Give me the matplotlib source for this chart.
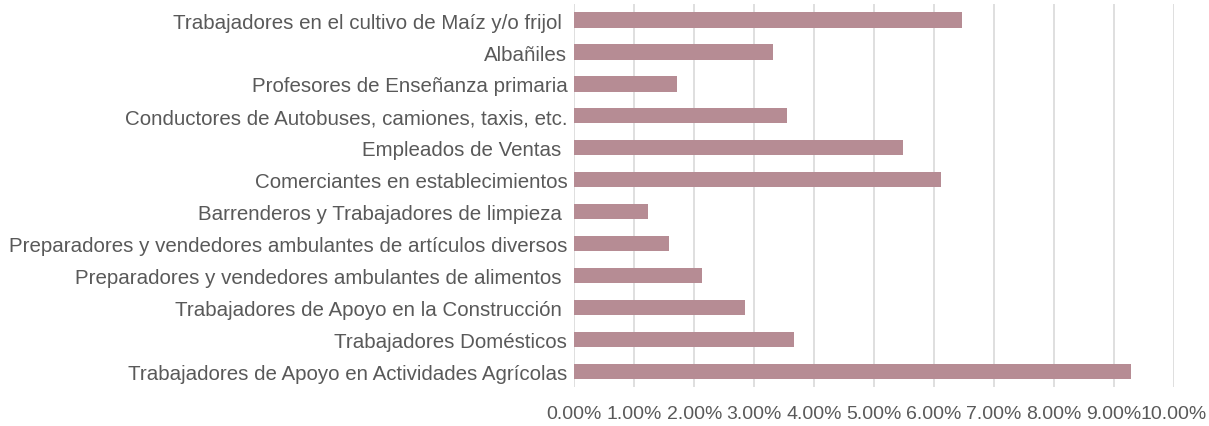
import matplotlib
matplotlib.use("Agg")
import matplotlib.pyplot as plt
from matplotlib.ticker import FuncFormatter

plt.rcParams['font.family'] = ['Liberation Sans', 'DejaVu Sans']

# categorias (de arriba hacia abajo) y porcentajes
ocupaciones = [
    "Trabajadores en el cultivo de Maíz y/o frijol ",
    "Albañiles",
    "Profesores de Enseñanza primaria",
    "Conductores de Autobuses, camiones, taxis, etc.",
    "Empleados de Ventas ",
    "Comerciantes en establecimientos",
    "Barrenderos y Trabajadores de limpieza ",
    "Preparadores y vendedores ambulantes de artículos diversos",
    "Preparadores y vendedores ambulantes de alimentos ",
    "Trabajadores de Apoyo en la Construcción ",
    "Trabajadores Domésticos",
    "Trabajadores de Apoyo en Actividades Agrícolas",
]
porcentajes = [6.47, 3.31, 1.72, 3.55, 5.48, 6.12, 1.23, 1.58, 2.13, 2.84, 3.66, 9.29]
xticks = [0, 1, 2, 3, 4, 5, 6, 7, 8, 9, 10]

gris = "#595959"
fig = plt.figure(figsize=(12.09, 4.27), dpi=100)
ax = fig.add_axes([0.475, 0.091, 0.496, 0.897])

pos = list(range(len(ocupaciones)))
ax.barh(pos, porcentajes, height=0.48, color="#b68c94", zorder=3)
ax.set_yticks(pos)
ax.set_yticklabels(ocupaciones)
ax.set_ylim(len(ocupaciones) - 0.5, -0.5)
ax.set_xlim(0, 10)
ax.set_xticks(xticks)
ax.xaxis.set_major_formatter(FuncFormatter(lambda v, p: "%.2f%%" % v))
ax.grid(axis="x", color="#d9d9d9", linewidth=1.2, zorder=0)
for s in ax.spines.values():
    s.set_visible(False)
ax.tick_params(length=0, colors=gris)
ax.tick_params(axis="y", pad=5, labelsize=14.8)
ax.tick_params(axis="x", pad=13, labelsize=14)

fig.savefig("out.png", dpi=100)
